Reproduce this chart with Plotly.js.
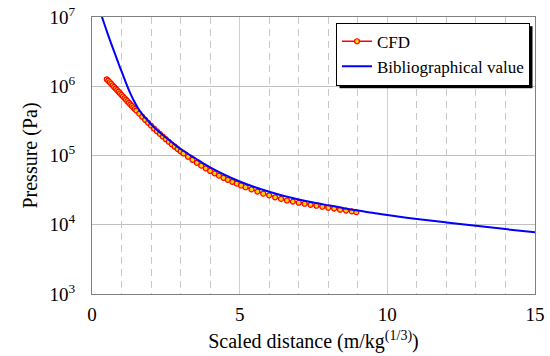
<!DOCTYPE html>
<html>
<head>
<meta charset="utf-8">
<script src="https://cdn.plot.ly/plotly-3.0.1.min.js"></script>
<style>html,body{margin:0;padding:0;background:#fff;}#chart{width:550px;height:356px;}</style>
</head>
<body>
<div id="chart"></div>
<script>
// CFD results (scaled distance, pressure in Pa)
const cfdX = [0.5,0.55,0.6,0.65,0.7,0.75,0.8,0.85,0.9,0.95,1.0,1.05,1.1,1.15,1.2,1.25,1.3,1.35,1.4,1.45,1.5,
  1.6,1.7,1.8,1.9,2.0,2.1,2.2,2.3,2.4,2.5,2.6,2.7,2.8,2.9,3.0,3.1,
  3.25,3.4,3.55,3.7,3.85,4.0,4.15,4.3,4.45,4.6,4.75,4.9,5.05,
  5.2,5.4,5.6,5.8,6.0,6.2,6.4,6.6,6.8,7.0,7.2,7.4,7.6,7.8,8.0,8.2,8.4,8.6,8.8,8.95];
const cfdP = [1260000,1202000,1143000,1086000,1030000,977000,927000,879000,834000,791000,750000,711000,675000,640000,608000,577000,547000,520000,493000,469000,445000,
  402000,363000,328000,297000,270000,245000,224000,205000,187000,172000,158000,145000,134000,124000,115000,107000,
  95900,86500,78300,71300,65200,59800,55200,51200,47600,44500,41700,39200,36900,
  34800,32400,30100,28100,26600,24900,23600,22400,21600,20800,20100,19400,18800,18200,17600,17100,16500,16000,15600,15200];

// Bibliographical curve
const bibX = [0.3,0.34,0.45,0.55,0.65,0.75,0.85,0.95,1.05,1.15,1.25,1.35,1.45,1.55,1.65,1.75,1.85,2.0,2.25,2.5,2.75,3.0,3.25,3.5,3.75,4.0,4.5,5.0,5.5,6.0,6.5,7.0,7.5,8.0,8.5,9.0,9.5,10,11,12,13,14,15];
const bibP = [11750000,10000000,7240000,5430000,4120000,3160000,2430000,1860000,1450000,1120000,881000,708000,582000,490000,422000,372000,335000,282000,224000,182000,150000,124000,106000,91200,77600,67600,52500,42200,35100,29900,26000,23200,20900,19100,17500,16000,14900,13800,12100,10800,9640,8650,7760];

const xTicks = [0,5,10,15];
const yTickVals = [1e3,1e4,1e5,1e6,1e7];
const yTickText = ['10<sup>3</sup>','10<sup>4</sup>','10<sup>5</sup>','10<sup>6</sup>','10<sup>7</sup>'];
const legendNames = ['CFD','Bibliographical value'];

const serif = "'Liberation Serif', 'Times New Roman', Times, 'DejaVu Serif', serif";

const traces = [
  {x: cfdX, y: cfdP, name: legendNames[0], type: 'scatter', mode: 'lines+markers',
   line: {color: '#ff0000', width: 1.5},
   marker: {symbol: 'circle', size: 5, color: '#ffd200', line: {color: '#ff0000', width: 1.2}}},
  {x: bibX, y: bibP, name: legendNames[1], type: 'scatter', mode: 'lines',
   line: {color: '#0000ff', width: 2, shape: 'spline'}}
];

const M = {l: 92, r: 15, t: 17, b: 62};
const layout = {
  width: 550, height: 356,
  margin: M,
  paper_bgcolor: '#fff', plot_bgcolor: '#fff',
  font: {family: serif, size: 18, color: '#000'},
  showlegend: true,
  legend: {x: 0.9887, xanchor: 'right', y: 0.9794, yanchor: 'top',
    bgcolor: '#fff', bordercolor: '#000', borderwidth: 1,
    font: {family: serif, size: 17, color: '#000'}, itemwidth: 30, tracegroupgap: 0},
  xaxis: {
    range: [0, 15], tickvals: xTicks, ticktext: xTicks.map(String),
    showgrid: true, gridcolor: '#cfcfcf', gridwidth: 1,
    minor: {dtick: 1, tick0: 0, showgrid: true, gridcolor: '#c8c8c8', griddash: '7px,5px', gridwidth: 1},
    showline: true, linecolor: '#808080', linewidth: 1, mirror: true,
    ticks: '', zeroline: false, ticklabelstandoff: 3,
    tickfont: {family: serif, size: 19, color: '#000'},
    title: {text: 'Scaled distance (m/kg<sup>(1/3)</sup>)', font: {family: serif, size: 20, color: '#000'}, standoff: 10}
  },
  yaxis: {
    type: 'log', range: [3, 7], tickvals: yTickVals, ticktext: yTickText,
    showgrid: true, gridcolor: '#c0c0c0', gridwidth: 1,
    showline: true, linecolor: '#808080', linewidth: 1, mirror: true,
    ticks: 'outside', ticklen: 12, tickcolor: 'rgba(0,0,0,0)', zeroline: false,
    tickfont: {family: serif, size: 19, color: '#000'},
    title: {text: 'Pressure (Pa)', font: {family: serif, size: 20, color: '#000'}, standoff: 6}
  }
};

function addLegendShadow(gd) {
  try {
    const leg = gd.querySelector('g.legend');
    if (!leg) return;
    const bg = leg.querySelector('rect.bg');
    if (!bg) return;
    let w = parseFloat(bg.getAttribute('width'));
    let h = parseFloat(bg.getAttribute('height'));
    let x = parseFloat(bg.getAttribute('x')) || 0;
    let y = parseFloat(bg.getAttribute('y')) || 0;
    if (!(w > 0) || !(h > 0)) {
      const b = bg.getBBox();
      w = b.width; h = b.height; x = b.x; y = b.y;
    }
    if (!(w > 0) || !(h > 0)) { w = 188; h = 50; x = 0; y = 0; }
    const old = leg.querySelector('rect.legshadow');
    if (old) old.remove();
    const r = document.createElementNS('http://www.w3.org/2000/svg', 'rect');
    r.setAttribute('class', 'legshadow');
    r.setAttribute('x', x + 3);
    r.setAttribute('y', y + 3);
    r.setAttribute('width', w);
    r.setAttribute('height', h);
    r.setAttribute('fill', '#000');
    leg.insertBefore(r, leg.firstChild);
  } catch (e) {}
}

const gdEl = document.getElementById('chart');
Plotly.newPlot(gdEl, traces, layout, {displayModeBar: false, staticPlot: true}).then(function () {
  addLegendShadow(gdEl);
});
</script>
</body>
</html>
